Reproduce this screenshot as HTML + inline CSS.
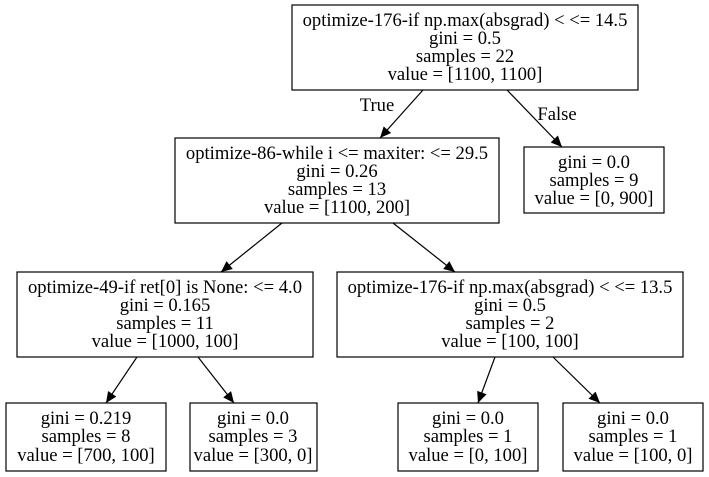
<!DOCTYPE html>
<html><head><style>body{margin:0;background:#fff}svg{display:block}</style></head>
<body>
<svg width="709" height="477" viewBox="0 0 709 477" xmlns="http://www.w3.org/2000/svg" font-family="'Liberation Serif', serif" font-size="18.6" text-anchor="middle">
<defs><marker id="a" viewBox="0 0 10 9" refX="10" refY="4.5" markerWidth="12" markerHeight="10" markerUnits="userSpaceOnUse" orient="auto"><path d="M0,0 L10,4.5 L0,9 z" fill="#000"/></marker></defs>
<g fill="none" stroke="#000" stroke-width="1.2">
<rect x="292" y="5" width="346" height="85"/>
<rect x="175" y="138" width="324" height="85"/>
<rect x="524" y="147" width="140" height="66"/>
<rect x="17" y="272" width="296" height="85"/>
<rect x="337" y="272" width="346" height="85"/>
<rect x="6" y="403" width="160" height="68"/>
<rect x="190" y="403" width="127" height="68"/>
<rect x="398" y="403" width="140" height="68"/>
<rect x="563" y="403" width="140" height="68"/>
<path d="M423,90 L380,138" marker-end="url(#a)"/>
<path d="M507,90 L562,147" marker-end="url(#a)"/>
<path d="M282,223 L221,272" marker-end="url(#a)"/>
<path d="M393,223 L455,272" marker-end="url(#a)"/>
<path d="M137,357 L106,403" marker-end="url(#a)"/>
<path d="M198,357 L234,403" marker-end="url(#a)"/>
<path d="M495,357 L478,403" marker-end="url(#a)"/>
<path d="M553,357 L600,403" marker-end="url(#a)"/>
</g>
<g fill="#000">
<text x="465" y="26">optimize-176-if np.max(absgrad) &lt; &lt;= 14.5</text>
<text x="465" y="44">gini = 0.5</text>
<text x="465" y="62">samples = 22</text>
<text x="465" y="80">value = [1100, 1100]</text>
<text x="377" y="111">True</text>
<text x="557" y="120">False</text>
<text x="337" y="159">optimize-86-while i &lt;= maxiter: &lt;= 29.5</text>
<text x="337" y="177">gini = 0.26</text>
<text x="337" y="195">samples = 13</text>
<text x="337" y="213">value = [1100, 200]</text>
<text x="594" y="168">gini = 0.0</text>
<text x="594" y="186">samples = 9</text>
<text x="594" y="204">value = [0, 900]</text>
<text x="165" y="293">optimize-49-if ret[0] is None: &lt;= 4.0</text>
<text x="165" y="311">gini = 0.165</text>
<text x="165" y="329">samples = 11</text>
<text x="165" y="347">value = [1000, 100]</text>
<text x="510" y="293">optimize-176-if np.max(absgrad) &lt; &lt;= 13.5</text>
<text x="510" y="311">gini = 0.5</text>
<text x="510" y="329">samples = 2</text>
<text x="510" y="347">value = [100, 100]</text>
<text x="86" y="424">gini = 0.219</text>
<text x="86" y="442">samples = 8</text>
<text x="86" y="461">value = [700, 100]</text>
<text x="253" y="424">gini = 0.0</text>
<text x="253" y="442">samples = 3</text>
<text x="253" y="461">value = [300, 0]</text>
<text x="468" y="424">gini = 0.0</text>
<text x="468" y="442">samples = 1</text>
<text x="468" y="461">value = [0, 100]</text>
<text x="633" y="424">gini = 0.0</text>
<text x="633" y="442">samples = 1</text>
<text x="633" y="461">value = [100, 0]</text>
</g>
</svg>
</body></html>
